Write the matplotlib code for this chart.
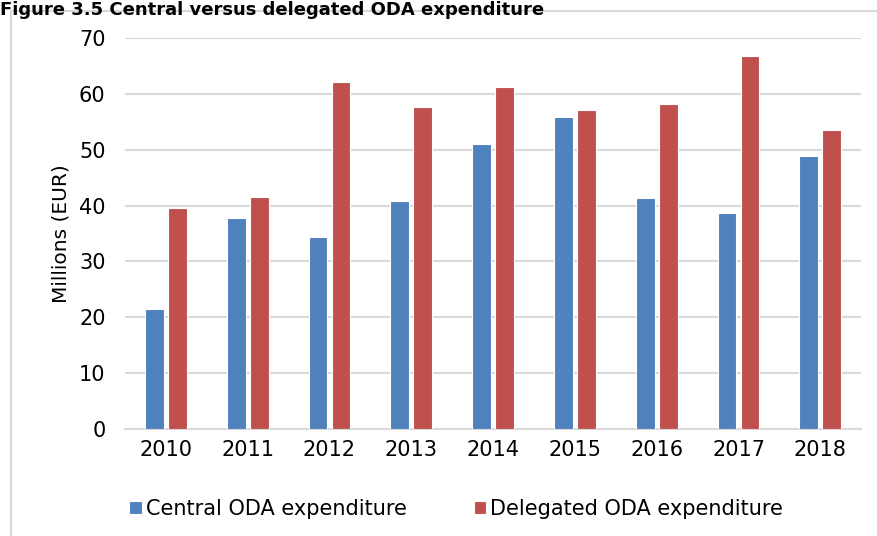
import matplotlib.pyplot as plt
import numpy as np
from matplotlib.patches import Rectangle

years = ['2010', '2011', '2012', '2013', '2014', '2015', '2016', '2017', '2018']
central = [21.5, 37.7, 34.3, 40.9, 51.1, 55.9, 41.4, 38.6, 48.9]
delegated = [39.6, 41.5, 62.2, 57.6, 61.3, 57.1, 58.2, 66.7, 53.5]

fig = plt.figure(figsize=(8.77, 5.36), dpi=100)
ax = fig.add_axes([0.1425, 0.1996, 0.8395, 0.7295])

x = np.arange(len(years))
w = 0.23
off = 0.14
ax.bar(x - off, central, w, color='#4F81BD', edgecolor='white', linewidth=0.8,
       label='Central ODA expenditure', zorder=3)
ax.bar(x + off, delegated, w, color='#C0504D', edgecolor='white', linewidth=0.8,
       label='Delegated ODA expenditure', zorder=3)

ax.set_xlim(-0.5, len(years) - 0.5)
ax.set_ylim(0, 70)
ax.set_yticks(range(0, 71, 10))
ax.set_xticks(x)
ax.set_xticklabels(years)
ax.tick_params(length=0, labelsize=15, pad=8)
ax.tick_params(axis='y', pad=14)
ax.yaxis.grid(True, color='#d9d9d9', linewidth=1.5, zorder=0)
for s in ['top', 'right', 'left']:
    ax.spines[s].set_visible(False)
ax.spines['bottom'].set_color('#d9d9d9')
ax.spines['bottom'].set_linewidth(1.5)
ax.set_ylabel('Millions (EUR)', fontsize=14.5, labelpad=6)

# outer chart frame
fig.patches.append(Rectangle((0.012, -0.05), 1.1, 1.03, transform=fig.transFigure,
                             fill=False, edgecolor='#d9d9d9', linewidth=1.5))

fig.text(0.0, 0.998, 'Figure 3.5 Central versus delegated ODA expenditure',
         fontsize=13, fontweight='bold', va='top', ha='left')

ax.legend(loc='center', bbox_to_anchor=(0.45, -0.205), ncol=2, frameon=False,
          fontsize=15, handlelength=0.6, handleheight=0.6, handletextpad=0.2,
          columnspacing=3.2)

plt.savefig('out.png', dpi=100)
